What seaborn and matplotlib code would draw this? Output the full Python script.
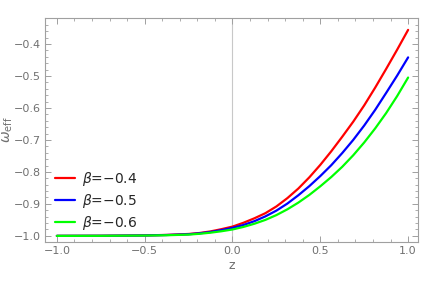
import matplotlib
matplotlib.use("Agg")
import matplotlib.pyplot as plt
import seaborn as sns
import pandas as pd
from matplotlib.ticker import MultipleLocator

# redshift samples
z = [-1.0, -0.75, -0.5, -0.375, -0.25, -0.1875, -0.125, -0.0625,
     0.0, 0.0625, 0.125, 0.1875, 0.25, 0.3125, 0.375, 0.4375,
     0.5, 0.5625, 0.625, 0.6875, 0.75, 0.8125, 0.875, 0.9375, 1.0]

# omega_eff for each beta
w_b04 = [-1.0, -0.9997, -0.9985, -0.997, -0.994, -0.991, -0.986, -0.979,
         -0.971, -0.959, -0.945, -0.929, -0.908, -0.882, -0.852, -0.817,
         -0.778, -0.7355, -0.690, -0.643, -0.592, -0.5365, -0.478, -0.418, -0.356]
w_b05 = [-1.0, -0.9997, -0.9987, -0.9973, -0.995, -0.992, -0.988, -0.982,
         -0.975, -0.966, -0.954, -0.939, -0.921, -0.899, -0.873, -0.8445,
         -0.813, -0.779, -0.741, -0.700, -0.655, -0.606, -0.553, -0.499, -0.442]
w_b06 = [-1.0, -0.9998, -0.999, -0.998, -0.996, -0.9935, -0.990, -0.9855,
         -0.980, -0.972, -0.962, -0.950, -0.935, -0.917, -0.896, -0.872,
         -0.845, -0.816, -0.784, -0.748, -0.708, -0.664, -0.616, -0.563, -0.505]

labels = ["$\\beta$=\u22120.4", "$\\beta$=\u22120.5", "$\\beta$=\u22120.6"]
colors = ["#ff0000", "#0000ff", "#00ff00"]

df = pd.concat([
    pd.DataFrame({"z": z, "w": w, "beta": lab})
    for w, lab in zip([w_b04, w_b05, w_b06], labels)
])

sns.set_style("white")
fig = plt.figure(figsize=(4.36, 2.82), dpi=100)
ax = fig.add_axes([0.103, 0.142, 0.856, 0.794])

ax.axvline(0, color="#c8c8c8", lw=0.8, zorder=0)
sns.lineplot(data=df, x="z", y="w", hue="beta", palette=colors,
             linewidth=1.6, ax=ax, sort=False)

ax.set_xlim(-1.068, 1.057)
ax.set_ylim(-1.019, -0.319)

ax.xaxis.set_major_locator(MultipleLocator(0.5))
ax.xaxis.set_minor_locator(MultipleLocator(0.1))
ax.yaxis.set_major_locator(MultipleLocator(0.1))
ax.yaxis.set_minor_locator(MultipleLocator(0.02))
ax.xaxis.set_major_formatter(lambda v, p: f"{v:.1f}".replace("-", "\u2212"))
ax.yaxis.set_major_formatter(lambda v, p: f"{v:.1f}".replace("-", "\u2212"))

grey = "#a0a0a0"
for s in ax.spines.values():
    s.set_color(grey)
    s.set_linewidth(0.8)
ax.tick_params(which="both", direction="in", top=True, right=True,
               bottom=True, left=True, color=grey, labelcolor="#707070",
               labelsize=8, pad=3)
ax.tick_params(which="major", length=4, width=0.7)
ax.tick_params(which="minor", length=2, width=0.6)

ax.set_xlabel("z", color="#707070", fontsize=9, labelpad=2)
ax.set_ylabel("$\\omega_{\\rm eff}$", color="#707070", fontsize=10)
ax.yaxis.set_label_coords(-0.08, 0.5)

leg = ax.legend(loc="lower left", bbox_to_anchor=(0.0, 0.0), frameon=False,
                fontsize=10, handlelength=1.5, handletextpad=0.5,
                labelspacing=0.3, borderaxespad=0.3)

fig.savefig("out.png", dpi=100)
